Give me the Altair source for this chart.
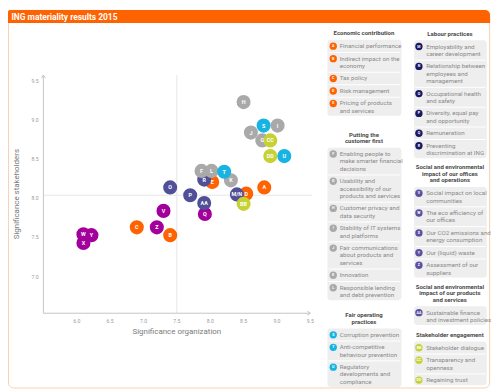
import altair as alt
import pandas as pd

# ---------------- data ----------------
title_text = "ING materiality results 2015"
x_title = "Significance organization"
y_title = "Significance stakeholders"
x_ticks = [6.0, 6.5, 7.0, 7.5, 8.0, 8.5, 9.0, 9.5]
y_ticks = [7.0, 7.5, 8.0, 8.5, 9.0, 9.5]
x_domain = [5.5, 9.5]
y_domain = [6.533, 9.574]
vline_x = [7.5]
hline_y = [8.04]

# points listed back-to-front (drawing order)
point_ids = ["C", "Z", "B", "V", "Q", "AA", "O", "P", "E", "R", "F", "L", "K", "T", "D",
             "M/N", "BB", "A", "H", "J", "G", "CC", "I", "S", "DD", "U", "X", "Y", "W"]
sig_org = [6.90, 7.20, 7.40, 7.30, 7.92, 7.91, 7.40, 7.70, 8.03, 7.91, 7.87, 8.02, 8.31, 8.21, 8.54,
           8.40, 8.50, 8.81, 8.50, 8.61, 8.78, 8.90, 9.01, 8.80, 8.90, 9.11, 6.10, 6.22, 6.10]
sig_stake = [7.63, 7.63, 7.53, 7.84, 7.80, 7.94, 8.14, 8.04, 8.21, 8.24, 8.35, 8.35, 8.23, 8.34, 8.06,
             8.05, 7.93, 8.14, 9.23, 8.84, 8.74, 8.74, 8.93, 8.93, 8.54, 8.54, 7.43, 7.53, 7.54]
point_group = ["eco", "off", "eco", "off", "off", "prod", "lab", "lab", "eco", "lab", "cust", "cust", "cust", "fair", "eco",
               "lab", "stake", "eco", "cust", "cust", "cust", "stake", "cust", "fair", "stake", "fair", "off", "off", "off"]

groups = ["eco", "cust", "fair", "lab", "off", "prod", "stake"]
point_colours = ["#FF6200", "#A9A9A9", "#17B3E3", "#514F98", "#A3009B", "#514F98", "#C6D133"]
icon_colours = ["#FF6200", "#A9A9A9", "#17B3E3", "#1A1862", "#5B4FA0", "#5B4FA0", "#C6D133"]

head_economic = "Economic contribution"
ids_economic = ["A", "B", "C", "D", "E"]
lab_economic = ["Financial performance", "Indirect impact on the\neconomy", "Tax policy",
                "Risk management", "Pricing of products\nand services"]
head_customer = "Putting the\ncustomer first"
ids_customer = ["F", "G", "H", "I", "J", "K", "L"]
lab_customer = ["Enabling people to\nmake smarter financial\ndecisions",
                "Usability and\naccessibility of our\nproducts and services",
                "Customer privacy and\ndata security", "Stability of IT systems\nand platforms",
                "Fair communications\nabout products and\nservices", "Innovation",
                "Responsible lending\nand debt prevention"]
head_fair = "Fair operating\npractices"
ids_fair = ["S", "T", "U"]
lab_fair = ["Corruption prevention", "Anti-competitive\nbehaviour prevention",
            "Regulatory\ndevelopments and\ncompliance"]
head_labour = "Labour practices"
ids_labour = ["M", "N", "O", "P", "Q", "R"]
lab_labour = ["Employability and\ncareer development", "Relationship between\nemployees and\nmanagement",
              "Occupational health\nand safety", "Diversity, equal pay\nand opportunity", "Remuneration",
              "Preventing\ndiscrimination at ING"]
head_offices = "Social and environmental\nimpact of our offices\nand operations"
ids_offices = ["V", "W", "X", "Y", "Z"]
lab_offices = ["Social impact on local\ncommunities", "The eco efficiency of\nour offices",
               "Our CO2 emissions and\nenergy consumption", "Our (liquid) waste", "Assessment of our\nsuppliers"]
head_products = "Social and environmental\nimpact of our products\nand services"
ids_products = ["AA"]
lab_products = ["Sustainable finance\nand investment policies"]
head_stake = "Stakeholder engagement"
ids_stake = ["BB", "CC", "DD"]
lab_stake = ["Stakeholder dialogue", "Transparency and\nopenness", "Regaining trust"]

# ---------------- layout ----------------
K = 0.978
W, H = 500 * K, 392 * K
FONT = "Roboto"
LH, GAP, HLH, H2I = 7.6, 5.3, 6.6, 13.4

columns = [
    dict(x0=330, x1=406.5, icon=336, text=342.6, start=24.0, gaps=[24.6, 21.0],
         sections=[(head_economic, ids_economic, lab_economic, "eco"),
                   (head_customer, ids_customer, lab_customer, "cust"),
                   (head_fair, ids_fair, lab_fair, "fair")]),
    dict(x0=419.5, x1=494.5, icon=424.5, text=432, start=24.4, gaps=[14.8, 14.8, 15.3],
         sections=[(head_labour, ids_labour, lab_labour, "lab"),
                   (head_offices, ids_offices, lab_offices, "off"),
                   (head_products, ids_products, lab_products, "prod"),
                   (head_stake, ids_stake, lab_stake, "stake")]),
]

heads, items, icons, boxes, seps = [], [], [], [], []
for col in columns:
    y = col["start"]
    cx = (col["x0"] + col["x1"]) / 2 - 0.5
    for s, (head, ids, labs, key) in enumerate(col["sections"]):
        hl = head.split("\n")
        for i, t in enumerate(hl):
            heads.append(dict(x=cx, y=y + i * HLH, t=t))
        y += (len(hl) - 1) * HLH + H2I
        first = y
        for k, (pid, lab) in enumerate(zip(ids, labs)):
            if k:
                seps.append(dict(x=col["x0"] + 1, x2=col["x1"] - 1, y=y - (LH + GAP) / 2))
            icons.append(dict(x=col["icon"], y=y, t=pid, g=key))
            for j, line in enumerate(lab.split("\n")):
                items.append(dict(x=col["text"], y=y + j * LH, t=line))
            y += len(lab.split("\n")) * LH + GAP
        last = y - GAP - LH
        boxes.append(dict(x=col["x0"], x2=col["x1"], y=first - 6.5, y2=last + 5.2))
        if s < len(col["gaps"]):
            y = last + col["gaps"][s]

PX = alt.Scale(domain=[0, 500], range=[0, W], nice=False, zero=False)
PY = alt.Scale(domain=[0, 392], range=[0, H], nice=False, zero=False)


def px(f="x"):
    return alt.X(f"{f}:Q", scale=PX, axis=None)


def py(f="y"):
    return alt.Y(f"{f}:Q", scale=PY, axis=None)


frame = pd.DataFrame([dict(x=0.5, x2=497.5, y=0.5, y2=390.5)])
bar = pd.DataFrame([dict(x=0, x2=498, y=0, y2=13.6)])
title_df = pd.DataFrame([dict(x=3.5, y=7.0, t=title_text)])

border_l = alt.Chart(frame).mark_rect(fill=None, stroke="#FCCFB0", strokeWidth=1, cornerRadius=5).encode(
    x=px(), x2="x2:Q", y=py(), y2="y2:Q")
bar_l = alt.Chart(bar).mark_rect(fill="#FF6200", cornerRadiusTopRight=5, cornerRadiusTopLeft=2).encode(
    x=px(), x2="x2:Q", y=py(), y2="y2:Q")
title_l = alt.Chart(title_df).mark_text(align="left", baseline="middle", color="white", font=FONT,
                                        fontSize=8.7 * K, fontWeight="bold").encode(x=px(), y=py(), text="t:N")
box_l = alt.Chart(pd.DataFrame(boxes)).mark_rect(fill="#EEEEEE", cornerRadius=3).encode(
    x=px(), x2="x2:Q", y=py(), y2="y2:Q")
sep_l = alt.Chart(pd.DataFrame(seps)).mark_rule(color="white", strokeWidth=1).encode(
    x=px(), x2="x2:Q", y=py())
head_l = alt.Chart(pd.DataFrame(heads)).mark_text(align="center", baseline="middle", color="#4A4A4A", font=FONT,
                                                  fontSize=6.2 * K, fontWeight="bold").encode(
    x=px(), y=py(), text="t:N")
item_l = alt.Chart(pd.DataFrame(items)).mark_text(align="left", baseline="middle", color="#8A8A8A", font=FONT,
                                                  fontSize=6.4 * K).encode(x=px(), y=py(), text="t:N")
icon_l = alt.Chart(pd.DataFrame(icons)).mark_circle(opacity=1, size=(7.6 * K) ** 2).encode(
    x=px(), y=py(), color=alt.Color("g:N", scale=alt.Scale(domain=groups, range=icon_colours), legend=None))
icon_t = alt.Chart(pd.DataFrame(icons)).mark_text(align="center", baseline="middle", color="white", font=FONT,
                                                  fontSize=3.7 * K, fontWeight="bold").encode(
    x=px(), y=py(), text="t:N")

decor = alt.layer(border_l, bar_l, title_l, box_l, sep_l, head_l, item_l, icon_l, icon_t)

# ---------------- scatter ----------------
SX = alt.Scale(domain=x_domain, range=[36.55 * K, 312.3 * K], nice=False, zero=False)
SY = alt.Scale(domain=y_domain, range=[313.3 * K, 67.3 * K], nice=False, zero=False)
AXC = "#C4C4C4"


def sx(f="x"):
    return alt.X(f"{f}:Q", scale=SX, axis=None)


def sy(f="y"):
    return alt.Y(f"{f}:Q", scale=SY, axis=None)


xmid = (x_domain[0] + x_domain[1]) / 2
ymid = (y_domain[0] + y_domain[1]) / 2

ref_v = alt.Chart(pd.DataFrame(dict(x=vline_x, y=[y_domain[0]], y2=[y_domain[1]]))).mark_rule(
    color="#E6E6E6", strokeWidth=1).encode(x=sx(), y=sy(), y2="y2:Q")
ref_h = alt.Chart(pd.DataFrame(dict(y=hline_y, x=[x_domain[0]], x2=[x_domain[1] + 0.03]))).mark_rule(
    color="#E6E6E6", strokeWidth=1).encode(x=sx(), x2="x2:Q", y=sy())

x_line = alt.Chart(pd.DataFrame(dict(x=[x_domain[0]], x2=[x_domain[1]], y=[y_domain[0]]))).mark_rule(
    color=AXC, strokeWidth=1).encode(x=sx(), x2="x2:Q", y=sy())
y_line = alt.Chart(pd.DataFrame(dict(x=[x_domain[0]], y=[y_domain[0]], y2=[y_domain[1]]))).mark_rule(
    color=AXC, strokeWidth=1).encode(x=sx(), y=sy(), y2="y2:Q")
arrow_r = alt.Chart(pd.DataFrame(dict(x=[x_domain[1]], y=[y_domain[0]]))).mark_point(
    shape="M-1.5,-1L0,0L-1.5,1", filled=False, stroke=AXC, strokeWidth=1, opacity=1, size=16).encode(
    x=sx(), y=sy())
arrow_u = alt.Chart(pd.DataFrame(dict(x=[x_domain[0]], y=[y_domain[1]]))).mark_point(
    shape="M-1,1.5L0,0L1,1.5", filled=False, stroke=AXC, strokeWidth=1, opacity=1, size=16).encode(
    x=sx(), y=sy())

xt = pd.DataFrame(dict(x=x_ticks, y=[y_domain[0]] * len(x_ticks)))
xt["t"] = [f"{v:.1f}" for v in x_ticks]
yt = pd.DataFrame(dict(y=y_ticks, x=[x_domain[0]] * len(y_ticks)))
yt["t"] = [f"{v:.1f}" for v in y_ticks]

x_lab = alt.Chart(xt).mark_text(align="center", baseline="middle", dy=8 * K, color="#9A9A9A", font=FONT,
                                fontSize=5.3 * K).encode(x=sx(), y=sy(), text="t:N")
y_lab = alt.Chart(yt).mark_text(align="right", baseline="middle", dx=-5 * K, color="#9A9A9A", font=FONT,
                                fontSize=5.3 * K).encode(x=sx(), y=sy(), text="t:N")
x_tit = alt.Chart(pd.DataFrame(dict(x=[xmid], y=[y_domain[0]], t=[x_title]))).mark_text(
    align="center", baseline="middle", dy=19 * K, color="#7A7A7A", font=FONT, fontSize=8.2 * K).encode(
    x=sx(), y=sy(), text="t:N")
y_tit = alt.Chart(pd.DataFrame(dict(x=[x_domain[0]], y=[ymid], t=[y_title]))).mark_text(
    align="center", baseline="middle", angle=270, dy=-27.4 * K, color="#7A7A7A", font=FONT,
    fontSize=8.2 * K).encode(x=sx(), y=sy(), text="t:N")

pts = pd.DataFrame(dict(id=point_ids, x=sig_org, y=sig_stake, group=point_group))

circles = alt.Chart(pts).mark_circle(opacity=1, size=(14.5 * K) ** 2).encode(
    x=sx(), y=sy(),
    color=alt.Color("group:N", scale=alt.Scale(domain=groups, range=point_colours), legend=None))
labels = alt.Chart(pts).mark_text(align="center", baseline="middle", color="white", font=FONT,
                                  fontSize=5.6 * K, fontWeight="bold").encode(x=sx(), y=sy(), text="id:N")

scatter = alt.layer(ref_v, ref_h, x_line, y_line, arrow_r, arrow_u, x_lab, y_lab, x_tit, y_tit, circles, labels)

chart = alt.layer(decor, scatter).resolve_scale(
    x="independent", y="independent", color="independent"
).properties(
    width=W, height=H, padding=0, autosize=alt.AutoSizeParams(type="none")
).configure_view(stroke=None)

chart.save("out.html", embed_options={"renderer": "svg", "actions": False})
